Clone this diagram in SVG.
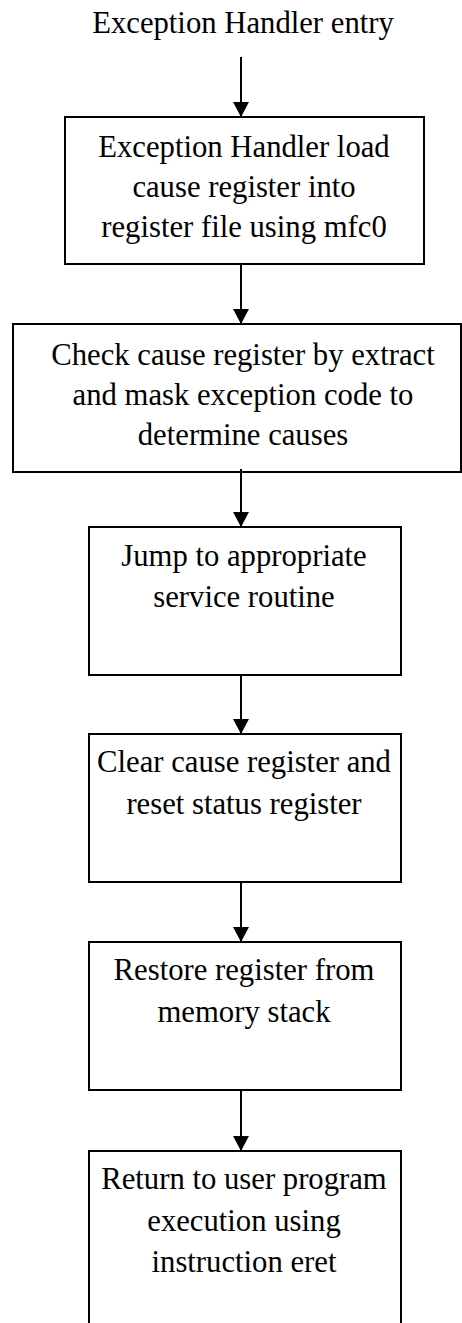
<svg xmlns="http://www.w3.org/2000/svg" width="462" height="1323" viewBox="0 0 462 1323">
  <defs>
    <style>
      .box { fill: #ffffff; stroke: #000000; stroke-width: 2; }
      .lbl { font-family: "Liberation Serif", "Times New Roman", serif; font-size: 30.7px; fill: #000000; text-anchor: middle; }
      .conn { stroke: #000000; stroke-width: 2; fill: none; marker-end: url(#head); }
    </style>
    <marker id="head" markerUnits="userSpaceOnUse" markerWidth="16" markerHeight="16" refX="15" refY="8" orient="auto">
      <path d="M0,0 L15,8 L0,16 Z" fill="#000000"/>
    </marker>
  </defs>
  <rect width="462" height="1323" fill="#ffffff"/>

  <!-- entry label -->
  <g id="entry">
    <text class="lbl" x="243" y="33">Exception Handler entry</text>
  </g>

  <!-- process steps -->
  <g id="load-cause">
    <rect class="box" x="65" y="117" width="359" height="147"/>
    <text class="lbl" x="244" y="157">Exception Handler load</text>
    <text class="lbl" x="244" y="197">cause register into</text>
    <text class="lbl" x="244" y="237">register file using mfc0</text>
  </g>

  <g id="check-cause">
    <rect class="box" x="13" y="324" width="448" height="148"/>
    <text class="lbl" x="243" y="365">Check cause register by extract</text>
    <text class="lbl" x="243" y="405">and mask exception code to</text>
    <text class="lbl" x="243" y="445">determine causes</text>
  </g>

  <g id="jump-service">
    <rect class="box" x="89" y="527" width="312" height="148"/>
    <text class="lbl" x="244" y="566">Jump to appropriate</text>
    <text class="lbl" x="244" y="607">service routine</text>
  </g>

  <g id="clear-cause">
    <rect class="box" x="89" y="734" width="312" height="148"/>
    <text class="lbl" x="244" y="772">Clear cause register and</text>
    <text class="lbl" x="244" y="814">reset status register</text>
  </g>

  <g id="restore-regs">
    <rect class="box" x="89" y="942" width="312" height="148"/>
    <text class="lbl" x="244" y="980">Restore register from</text>
    <text class="lbl" x="244" y="1022">memory stack</text>
  </g>

  <g id="return-user">
    <rect class="box" x="89" y="1151" width="312" height="190"/>
    <text class="lbl" x="244" y="1189">Return to user program</text>
    <text class="lbl" x="244" y="1231">execution using</text>
    <text class="lbl" x="244" y="1272">instruction eret</text>
  </g>

  <!-- connectors -->
  <g id="connectors">
    <line class="conn" x1="241" y1="57" x2="241" y2="117"/>
    <line class="conn" x1="241" y1="264" x2="241" y2="324"/>
    <line class="conn" x1="241" y1="469" x2="241" y2="527"/>
    <line class="conn" x1="241" y1="675" x2="241" y2="734"/>
    <line class="conn" x1="241" y1="882" x2="241" y2="942"/>
    <line class="conn" x1="241" y1="1090" x2="241" y2="1151"/>
  </g>
</svg>
